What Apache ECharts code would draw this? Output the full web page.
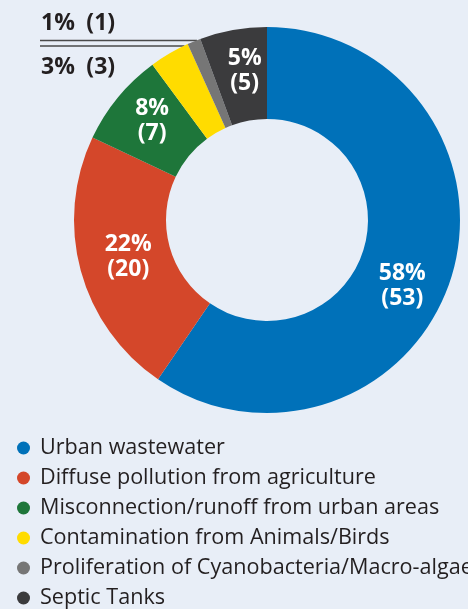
<!DOCTYPE html>
<html>
<head>
<meta charset="utf-8">
<script src="https://cdn.jsdelivr.net/npm/echarts@6/dist/echarts.min.js"></script>
<style>
html,body{margin:0;padding:0;background:#E8EEF7;}
#c{width:468px;height:609px;}
</style>
</head>
<body>
<div id="c"></div>
<script>
const categories = [
  'Urban wastewater',
  'Diffuse pollution from agriculture',
  'Misconnection/runoff from urban areas',
  'Contamination from Animals/Birds',
  'Proliferation of Cyanobacteria/Macro-algae',
  'Septic Tanks'
];
const counts = [53, 20, 7, 3, 1, 5];
const percentLabels = ['58%', '22%', '8%', '3%', '1%', '5%'];
const colors = ['#0071B9', '#D4472A', '#1E763A', '#FFDC00', '#767676', '#3B3B3D'];

const CX = 267, CY = 220, R_IN = 101, R_OUT = 193;
const FONT = '"Open Sans", sans-serif';

// small slices are labelled outside, at the top left
const outsideLabel = {
  3: { lineY: 46, textY: 67 },
  4: { lineY: 40.5, textY: 23 }
};

const data = categories.map((name, i) => {
  const item = { name: name, value: counts[i], itemStyle: { color: colors[i] } };
  if (outsideLabel[i]) {
    item.label = { position: 'outside', color: '#231F20' };
    item.labelLine = { show: true, lineStyle: { color: '#4A4A4A', width: 1.6 } };
  }
  return item;
});

const chart = echarts.init(document.getElementById('c'), null, { renderer: 'canvas' });
chart.setOption({
  backgroundColor: '#E8EEF7',
  animation: false,
  legend: {
    orient: 'vertical',
    left: 12,
    top: 432,
    height: 240,
    icon: 'circle',
    itemWidth: 19,
    itemHeight: 13,
    itemGap: 8,
    selectedMode: false,
    textStyle: { fontFamily: FONT, fontSize: 21.6, color: '#231F20', padding: [0, 0, 0, 2] },
    data: categories
  },
  series: [{
    type: 'pie',
    center: [CX, CY],
    radius: [R_IN, R_OUT],
    startAngle: 90,
    clockwise: true,
    avoidLabelOverlap: false,
    label: {
      show: true,
      position: 'inside',
      formatter: p => percentLabels[p.dataIndex] + (outsideLabel[p.dataIndex] ? '\u2002' : '\n') + '(' + counts[p.dataIndex] + ')',
      color: '#FFFFFF',
      fontFamily: FONT,
      fontWeight: 'bold',
      fontSize: 23,
      lineHeight: 25
    },
    labelLine: { show: false },
    labelLayout: function (params) {
      const i = params.dataIndex;
      if (outsideLabel[i]) {
        const o = outsideLabel[i];
        const dy = CY - o.lineY;
        const ex = CX - Math.sqrt(R_OUT * R_OUT - dy * dy);
        return {
          x: 41, y: o.textY, align: 'left', verticalAlign: 'middle',
          labelLinePoints: [[ex + 1, o.lineY], [ex, o.lineY], [40, o.lineY]]
        };
      }
      if (i === 0) {
        return { dx: -8, dy: 22 };
      }
      if (i === 1) {
        return { dx: 6, dy: -2 };
      }
      if (i === 5) {
        return { dx: 4, dy: -1 };
      }
      if (i === 2) {
        return { dx: 1, dy: -4 };
      }
      return {};
    },
    emphasis: { disabled: true },
    data: data
  }]
});
</script>
</body>
</html>
